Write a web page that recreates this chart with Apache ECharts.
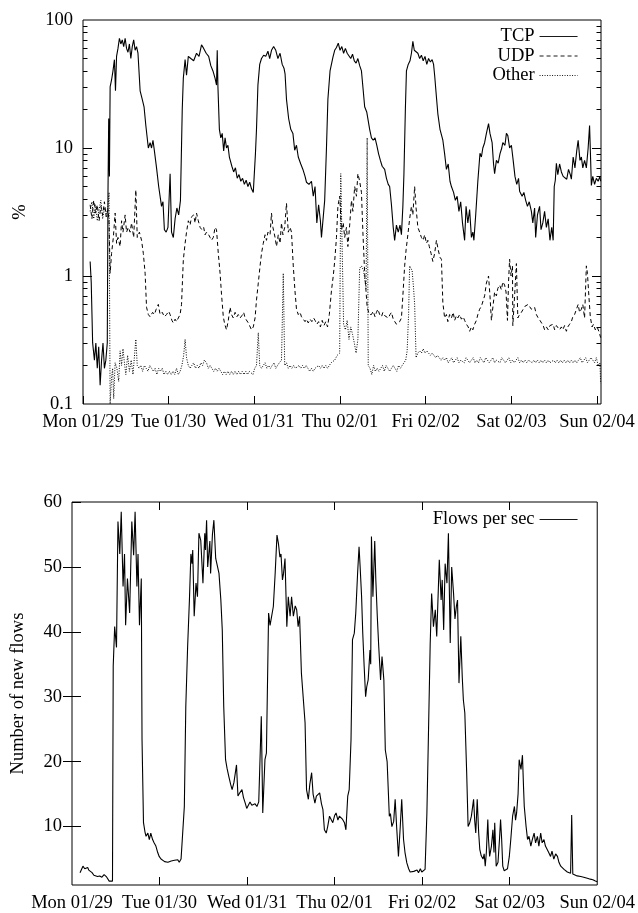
<!DOCTYPE html>
<html><head><meta charset="utf-8">
<script src="https://cdn.jsdelivr.net/npm/echarts@6/dist/echarts.min.js"></script>
<style>html,body{margin:0;padding:0;background:#fff}#c{width:638px;height:913px}</style>
</head><body><div id="c"></div>
<script>
// ---- axis ticks / labels ----
const dayTicks = [0, 24, 48, 72, 96, 120, 144];
const dayLabels = ['Mon 01/29', 'Tue 01/30', 'Wed 01/31', 'Thu 02/01', 'Fri 02/02', 'Sat 02/03', 'Sun 02/04'];
const pctLabelTicks = [0.1, 1, 10, 100];
const pctMajorTicks = [1, 10];
const pctMinorTicks = [0.2,0.3,0.4,0.5,0.6,0.7,0.8,0.9,2,3,4,5,6,7,8,9,20,30,40,50,60,70,80,90];
const flowLabelTicks = [10, 20, 30, 40, 50, 60];
const flowRightTicks = [10, 20, 30, 40, 50];

// ---- series data: [hours since Mon 00:00, value] ----
const tcp = [[2.0,1.3],[2.3,0.9],[2.7,0.3],[3.2,0.22],[3.6,0.3],[4.0,0.19],[4.4,0.28],[4.8,0.14],[5.2,0.22],[5.6,0.3],[6.0,0.19],[6.4,0.22],[6.8,0.3],[7.0,4.5],[7.2,17],[7.4,6],[7.6,30],[8.0,34],[8.4,40],[8.8,49],[9.1,28],[9.4,52],[9.8,60],[10.2,72],[10.6,65],[11.0,70],[11.4,62],[11.8,72],[12.2,60],[12.6,56],[13.0,65],[13.4,50],[13.8,62],[14.2,70],[14.6,58],[15.0,62],[15.4,55],[16.0,28],[16.6,24],[17.1,21],[17.6,15],[18.3,10],[18.8,11],[19.2,10],[19.6,11.5],[20.0,9.5],[20.6,7],[21.2,5],[22.0,3.5],[22.4,3.8],[22.8,2.3],[23.3,2.2],[23.8,2.4],[24.4,6.3],[24.8,2.2],[25.3,2.0],[25.8,2.8],[26.3,3.4],[26.8,3.0],[27.3,3.9],[27.8,20],[28.1,35],[28.6,49],[29.0,37],[29.5,52],[30.2,50],[31.0,48],[31.8,55],[32.5,52],[33.2,64],[33.8,60],[34.5,55],[35.2,52],[35.8,44],[36.4,40],[37.0,35],[37.4,31],[37.6,58],[37.8,30],[38.2,14],[38.6,12],[39.0,13],[39.4,9.5],[39.8,12],[40.2,10],[40.6,10.5],[41.0,8.5],[41.7,7.2],[42.2,6.5],[42.7,7.0],[43.2,5.8],[43.7,6.2],[44.2,5.5],[44.7,5.8],[45.2,5.2],[45.7,5.6],[46.2,5.0],[46.7,5.4],[47.2,4.8],[47.7,4.5],[48.3,9],[48.6,14],[49.0,31],[49.5,45],[50.0,50],[50.6,53],[51.2,52],[51.8,57],[52.3,50],[52.8,58],[53.4,62],[54.0,58],[54.6,50],[55.2,55],[55.8,45],[56.3,42],[56.6,38],[57.0,24],[57.6,17],[58.2,14],[58.8,13],[59.3,9.6],[59.8,10.5],[60.3,8.5],[61.0,7.5],[61.6,6.8],[62.2,6.0],[62.6,5.4],[63.3,5.2],[64.0,5.5],[64.5,4.2],[65.0,5.0],[65.5,2.6],[66.0,3.6],[66.5,2.7],[66.8,2.0],[67.7,3.9],[68.2,10],[68.6,24],[69.2,40],[70.0,51],[70.5,58],[71.0,61],[71.5,66],[72.0,58],[72.5,62],[73.0,55],[73.5,60],[74.0,55],[74.5,57],[75.0,50],[75.5,54],[76.0,48],[76.5,46],[77.0,50],[77.5,44],[78.0,40],[78.5,28],[78.9,21],[79.5,19],[80.3,14],[80.8,12],[81.3,11.5],[81.8,12],[82.3,10.5],[82.8,9],[83.3,8],[83.8,7.2],[84.5,6.8],[85.0,5.8],[85.5,5.2],[85.9,5],[86.4,3.6],[86.9,2.4],[87.3,1.9],[87.8,2.5],[88.3,2.2],[88.8,2.5],[89.2,2.1],[89.6,3.5],[89.9,6.3],[90.3,20],[90.6,40],[91.1,45],[91.6,48],[92.0,55],[92.4,68],[92.8,58],[93.3,57],[93.8,55],[94.3,50],[94.8,53],[95.3,48],[95.8,52],[96.3,45],[96.8,50],[97.3,47],[97.8,49],[98.2,45],[98.5,37],[99.0,25],[99.4,18.5],[100.0,14],[100.8,11.5],[101.3,9],[101.8,6.8],[102.3,7.5],[102.8,5.5],[103.2,5],[103.8,4.5],[104.3,3.9],[104.8,4.2],[105.3,3.2],[105.8,3.8],[106.3,2.6],[106.9,1.9],[107.3,3.5],[107.8,2.6],[108.3,3.3],[108.8,2.0],[109.2,2.2],[109.5,1.9],[110.0,3.0],[110.6,5.5],[111.2,9.1],[111.6,8.5],[112.0,10],[112.5,11],[113.0,13],[113.6,15.5],[114.0,13],[114.6,11],[115.0,7.5],[115.3,6.3],[115.8,8],[116.3,7.6],[116.8,9],[117.3,10],[117.6,11],[118.2,10.5],[118.6,13],[119.0,12.5],[119.5,10],[120.0,10.5],[120.5,8],[121.0,6],[121.5,5.2],[122.0,5.8],[122.3,4.6],[123.0,4.2],[123.5,4.5],[124.0,3.9],[124.5,3.5],[125.0,3.8],[125.6,3.2],[126.0,2.6],[126.5,3.4],[126.8,2.0],[127.3,3.0],[127.9,3.5],[128.3,2.3],[128.8,2.6],[129.3,3.2],[129.8,2.4],[130.3,2.8],[130.8,1.9],[131.3,2.4],[131.7,1.9],[132.0,5.0],[132.3,5.6],[132.6,7.6],[133.0,6.2],[133.5,7.5],[134.0,6.5],[134.5,6.0],[135.0,6.2],[135.5,5.7],[136.0,6.8],[136.5,6.2],[136.8,5.7],[137.3,8.5],[137.8,7.0],[138.3,9.5],[138.7,11.5],[139.2,8.0],[139.6,8.5],[140.0,7.0],[140.5,8.0],[141.0,7.0],[141.5,10],[141.9,15],[142.2,8],[142.4,5.1],[142.8,6.0],[143.3,5.2],[143.8,5.8],[144.3,5.5],[144.8,6.0],[145.0,5.5]];

const udp = [[2.0,3.6],[2.5,2.8],[3.0,3.9],[3.5,3.1],[4.0,3.6],[4.5,2.7],[5.0,3.5],[5.5,3.0],[6.0,3.8],[6.5,2.9],[7.0,3.3],[7.3,2.6],[7.6,1.05],[8.0,1.5],[8.5,2.0],[9.0,3.1],[9.4,1.8],[9.8,2.0],[10.4,1.7],[10.8,2.7],[11.2,2.2],[11.8,3.0],[12.2,2.2],[12.7,2.4],[13.2,2.2],[13.6,2.6],[14.2,2.0],[14.8,4.7],[15.2,2.0],[15.8,2.2],[16.4,1.9],[16.9,1.5],[17.4,1.05],[17.8,0.57],[18.3,0.5],[18.8,0.48],[19.5,0.52],[20.0,0.5],[20.5,0.55],[21.1,0.6],[21.6,0.5],[22.2,0.52],[22.8,0.48],[23.4,0.5],[24.0,0.53],[24.4,0.5],[24.9,0.45],[25.3,0.43],[25.8,0.46],[26.2,0.44],[26.7,0.47],[27.2,0.5],[27.6,0.6],[28.1,1.33],[28.6,1.8],[29.0,2.2],[29.5,2.7],[30.0,2.5],[30.4,2.9],[31.0,3.0],[31.4,2.6],[31.8,3.1],[32.3,2.7],[32.8,2.4],[33.3,2.3],[33.8,2.4],[34.2,2.1],[34.6,2.2],[35.2,2.1],[35.6,2.0],[36.0,1.9],[36.5,2.0],[37.0,2.4],[37.4,2.3],[37.9,1.5],[38.4,1.05],[38.8,0.72],[39.3,0.48],[39.7,0.42],[40.2,0.38],[40.7,0.45],[41.2,0.57],[41.6,0.5],[42.1,0.47],[42.6,0.52],[43.1,0.48],[43.5,0.5],[44.0,0.47],[44.5,0.49],[45.0,0.52],[45.4,0.47],[45.8,0.46],[46.3,0.43],[46.8,0.42],[47.2,0.38],[47.7,0.4],[48.2,0.47],[48.6,0.65],[49.1,0.88],[49.6,1.2],[50.0,1.5],[50.5,1.8],[51.0,2.1],[51.4,1.9],[51.8,2.2],[52.4,2.1],[52.8,3.1],[53.2,2.4],[53.8,2.0],[54.2,1.7],[54.7,2.1],[55.2,1.8],[55.6,2.6],[56.0,2.1],[56.5,2.4],[57.0,3.7],[57.5,2.2],[58.0,2.4],[58.4,2.2],[58.9,1.2],[59.4,0.75],[59.8,0.55],[60.3,0.5],[60.8,0.52],[61.2,0.48],[61.7,0.47],[62.2,0.44],[62.6,0.46],[63.1,0.43],[63.6,0.46],[64.1,0.44],[64.6,0.47],[65.0,0.45],[65.5,0.42],[66.0,0.44],[66.5,0.4],[67.0,0.45],[67.5,0.41],[68.0,0.44],[68.5,0.4],[69.0,0.5],[69.6,0.77],[70.1,1.0],[70.5,1.3],[71.0,2.0],[71.4,3.5],[71.9,4.2],[72.4,2.3],[72.9,2.6],[73.3,2.0],[73.8,2.4],[74.2,1.7],[74.7,2.5],[75.2,3.9],[75.6,3.2],[76.1,5.0],[76.6,4.2],[77.0,6.3],[77.5,5.5],[78.0,4.5],[78.4,2.2],[78.9,1.05],[79.3,0.75],[79.6,0.57],[80.2,0.5],[80.8,0.5],[81.3,0.53],[81.8,0.48],[82.2,0.52],[82.6,0.55],[83.1,0.5],[83.6,0.48],[84.0,0.52],[84.5,0.49],[85.0,0.5],[85.5,0.47],[86.0,0.5],[86.4,0.52],[86.9,0.46],[87.3,0.45],[87.8,0.42],[88.2,0.41],[88.7,0.44],[89.2,0.47],[89.6,0.7],[90.1,1.2],[90.5,1.6],[91.0,2.1],[91.5,2.8],[92.0,3.5],[92.4,3.0],[92.9,5.0],[93.3,3.4],[93.8,2.4],[94.3,2.2],[94.8,2.0],[95.3,1.9],[95.7,2.1],[96.2,1.8],[96.6,1.9],[97.0,1.7],[97.5,1.5],[98.0,1.3],[98.5,1.5],[99.0,1.9],[99.5,1.6],[100.0,1.4],[100.4,1.35],[100.8,0.62],[101.3,0.47],[101.8,0.5],[102.2,0.44],[102.7,0.5],[103.2,0.47],[103.7,0.52],[104.1,0.45],[104.6,0.49],[105.0,0.47],[105.5,0.5],[106.0,0.46],[106.5,0.48],[106.9,0.45],[107.4,0.42],[107.9,0.4],[108.3,0.37],[108.8,0.4],[109.2,0.38],[109.7,0.42],[110.2,0.45],[110.6,0.5],[111.1,0.55],[111.6,0.58],[112.0,0.6],[112.5,0.7],[113.0,0.88],[113.6,1.0],[114.0,0.7],[114.4,0.45],[114.9,0.6],[115.3,0.75],[115.8,0.7],[116.2,0.8],[116.7,0.85],[117.2,0.78],[117.6,0.9],[118.1,0.85],[118.5,0.75],[118.9,0.45],[119.2,0.9],[119.5,1.35],[119.9,1.0],[120.3,1.2],[120.4,0.41],[120.9,0.7],[121.4,1.25],[121.8,0.47],[122.3,0.5],[122.8,0.52],[123.3,0.55],[123.8,0.58],[124.2,0.6],[124.7,0.6],[125.2,0.58],[125.6,0.55],[126.1,0.56],[126.5,0.57],[127.0,0.5],[127.5,0.47],[128.0,0.45],[128.4,0.44],[128.9,0.41],[129.3,0.38],[129.8,0.4],[130.3,0.38],[130.8,0.41],[131.2,0.4],[131.7,0.42],[132.1,0.38],[132.6,0.41],[133.0,0.42],[133.5,0.38],[134.0,0.4],[134.4,0.38],[134.9,0.41],[135.4,0.37],[135.8,0.4],[136.3,0.42],[136.8,0.44],[137.2,0.48],[137.7,0.5],[138.2,0.5],[138.7,0.6],[139.1,0.52],[139.6,0.55],[140.0,0.6],[140.5,0.47],[141.0,1.2],[141.3,1.05],[141.7,0.7],[142.1,0.48],[142.6,0.4],[143.0,0.42],[143.5,0.38],[144.0,0.4],[144.5,0.37],[145.0,0.33]];

const other = [[2.0,3.2],[2.5,3.8],[3.0,2.8],[3.5,3.6],[4.0,2.7],[4.5,3.3],[5.0,3.9],[5.5,2.8],[6.0,3.4],[6.5,3.0],[7.0,3.5],[7.3,4.5],[7.6,0.1],[8.0,0.16],[8.3,0.19],[8.6,0.11],[9.0,0.21],[9.5,0.19],[10.0,0.15],[10.4,0.26],[10.8,0.2],[11.2,0.27],[11.6,0.21],[12.0,0.17],[12.5,0.24],[13.0,0.18],[13.5,0.22],[14.0,0.17],[14.8,0.32],[15.2,0.2],[15.7,0.19],[16.2,0.2],[16.7,0.18],[17.2,0.2],[17.7,0.19],[18.2,0.18],[18.7,0.2],[19.2,0.19],[19.7,0.18],[20.2,0.19],[20.7,0.17],[21.2,0.19],[21.7,0.18],[22.2,0.19],[22.7,0.17],[23.2,0.18],[23.7,0.17],[24.2,0.18],[24.7,0.17],[25.2,0.18],[25.7,0.17],[26.2,0.19],[26.7,0.17],[27.2,0.18],[27.7,0.2],[28.2,0.24],[28.6,0.32],[29.0,0.23],[29.5,0.2],[30.0,0.19],[30.5,0.2],[31.0,0.21],[31.5,0.19],[32.0,0.2],[32.5,0.19],[33.0,0.21],[33.5,0.2],[34.0,0.22],[34.6,0.21],[35.1,0.19],[35.6,0.2],[36.1,0.19],[36.6,0.18],[37.1,0.19],[37.6,0.18],[38.1,0.19],[38.6,0.18],[39.1,0.17],[39.6,0.18],[40.1,0.17],[40.6,0.18],[41.1,0.17],[41.6,0.18],[42.1,0.17],[42.6,0.18],[43.1,0.17],[43.6,0.18],[44.1,0.17],[44.6,0.18],[45.1,0.17],[45.6,0.18],[46.1,0.17],[46.6,0.18],[47.1,0.18],[47.6,0.17],[48.1,0.19],[48.6,0.2],[49.1,0.36],[49.5,0.2],[50.0,0.19],[50.5,0.2],[51.0,0.21],[51.5,0.19],[52.0,0.2],[52.5,0.19],[53.0,0.2],[53.5,0.21],[54.0,0.19],[54.5,0.2],[55.0,0.21],[55.6,0.22],[56.1,1.05],[56.5,0.2],[57.0,0.21],[57.5,0.19],[58.0,0.2],[58.5,0.19],[59.0,0.2],[59.5,0.19],[60.0,0.19],[60.5,0.2],[61.0,0.19],[61.5,0.2],[62.0,0.19],[62.5,0.2],[63.0,0.19],[63.5,0.18],[64.0,0.19],[64.5,0.18],[65.0,0.19],[65.5,0.19],[66.0,0.2],[66.5,0.19],[67.0,0.2],[67.5,0.19],[68.0,0.2],[68.5,0.19],[69.0,0.2],[69.5,0.21],[70.0,0.21],[70.5,0.22],[71.2,0.24],[71.9,0.25],[72.2,6.3],[72.5,2.3],[73.0,0.42],[73.5,0.38],[74.0,0.45],[74.5,0.32],[75.0,0.4],[75.5,0.35],[76.0,0.3],[76.5,0.25],[77.0,0.32],[77.5,1.15],[78.0,1.2],[78.6,1.1],[79.3,0.8],[79.6,12],[79.9,0.2],[80.4,0.19],[80.9,0.17],[81.4,0.2],[81.9,0.18],[82.4,0.19],[82.9,0.18],[83.4,0.19],[83.9,0.2],[84.4,0.18],[84.9,0.2],[85.4,0.19],[85.9,0.18],[86.4,0.19],[86.9,0.2],[87.4,0.19],[87.9,0.18],[88.4,0.2],[88.9,0.19],[89.4,0.2],[89.9,0.21],[90.4,0.22],[90.8,0.26],[91.2,0.5],[91.5,1.2],[92.2,1.1],[92.6,0.8],[92.9,0.6],[93.3,0.23],[93.8,0.25],[94.3,0.26],[94.8,0.25],[95.3,0.27],[95.8,0.25],[96.3,0.26],[96.8,0.25],[97.3,0.24],[97.8,0.25],[98.3,0.24],[98.8,0.23],[99.3,0.24],[99.8,0.23],[100.3,0.22],[100.8,0.23],[101.3,0.22],[101.8,0.23],[102.3,0.21],[102.8,0.22],[103.3,0.23],[103.8,0.21],[104.3,0.22],[104.8,0.23],[105.3,0.21],[105.8,0.22],[106.3,0.22],[106.8,0.21],[107.3,0.23],[107.8,0.22],[108.3,0.21],[108.8,0.22],[109.3,0.23],[109.8,0.21],[110.3,0.22],[110.8,0.21],[111.3,0.23],[111.8,0.22],[112.3,0.21],[112.8,0.23],[113.3,0.22],[113.8,0.21],[114.3,0.22],[114.8,0.23],[115.3,0.21],[115.8,0.22],[116.3,0.22],[116.8,0.21],[117.3,0.23],[117.8,0.22],[118.3,0.21],[118.8,0.22],[119.3,0.23],[119.8,0.21],[120.3,0.22],[120.8,0.21],[121.3,0.22],[121.8,0.23],[122.3,0.21],[122.8,0.22],[123.3,0.21],[123.8,0.22],[124.3,0.21],[124.8,0.22],[125.3,0.22],[125.8,0.21],[126.3,0.22],[126.8,0.21],[127.3,0.22],[127.8,0.21],[128.3,0.22],[128.8,0.21],[129.3,0.22],[129.8,0.21],[130.3,0.22],[130.8,0.21],[131.3,0.21],[131.8,0.22],[132.3,0.21],[132.8,0.22],[133.3,0.21],[133.8,0.22],[134.3,0.21],[134.8,0.22],[135.3,0.21],[135.8,0.22],[136.3,0.21],[136.8,0.22],[137.3,0.21],[137.8,0.22],[138.3,0.21],[138.8,0.22],[139.3,0.23],[139.8,0.21],[140.3,0.22],[140.8,0.23],[141.3,0.21],[141.8,0.22],[142.3,0.23],[142.8,0.22],[143.3,0.21],[143.8,0.23],[144.3,0.2],[144.8,0.21],[145.0,0.145]];

const flows = [[2.2,2.9],[3.0,3.9],[3.5,3.5],[3.9,3.4],[4.3,3.7],[4.6,3.3],[5.0,3.0],[5.5,2.9],[6.0,2.5],[6.5,2.7],[7.0,2.3],[7.6,2.4],[8.2,2.2],[8.8,2.6],[9.4,2.3],[9.8,2.5],[10.2,1.6],[10.7,1.7],[11.1,1.6],[11.3,34.7],[11.7,40.8],[12.2,37.6],[12.6,57],[13.1,52],[13.5,58.5],[14.0,47],[14.4,52],[14.7,41],[15.2,48.2],[15.8,42.9],[16.4,57],[16.9,51.8],[17.3,58.5],[17.8,47],[18.1,52],[18.5,41],[19.0,48.2],[19.2,23.4],[19.6,10.6],[20.0,9.2],[20.3,8.5],[20.8,9.0],[21.2,8.0],[21.6,9.0],[22.1,8.0],[22.5,7.5],[23.0,7.0],[23.5,6.0],[23.9,5.4],[24.4,5.0],[24.9,5.0],[25.4,4.6],[25.8,4.8],[26.3,4.5],[26.7,4.3],[27.2,4.7],[27.6,4.4],[28.1,4.8],[28.5,4.6],[29.0,4.9],[29.4,4.5],[29.9,5.0],[30.3,4.7],[30.8,13.1],[31.2,28.5],[31.7,37.7],[32.2,45],[32.6,52],[32.9,50.5],[33.1,52.6],[33.5,42.4],[34.0,47.5],[34.4,45.4],[34.8,55.2],[35.3,54.1],[35.9,47.5],[36.4,55.2],[36.6,52.6],[36.9,57.2],[37.2,50],[37.4,50],[37.8,54],[38.0,49],[38.5,55],[38.9,57.2],[39.4,51.3],[39.8,51.3],[40.3,49],[40.8,45],[41.2,40.3],[41.6,28.5],[42.1,20.3],[42.5,19],[43.0,17.7],[43.5,16.5],[43.9,15.7],[44.4,16.8],[45.1,19.5],[45.5,14.7],[46.0,15.2],[46.6,15.7],[47.0,14.5],[47.5,13.6],[47.9,12.8],[48.4,13.1],[48.8,13.8],[49.3,13.3],[49.8,13.0],[50.2,13.5],[50.7,13.1],[51.2,13.8],[51.6,13.6],[51.9,27.0],[52.3,12.1],[52.9,20.3],[53.3,21.3],[53.9,42.9],[54.3,41],[54.8,41.3],[55.2,43.9],[55.7,49],[56.2,54.9],[56.6,53.6],[57.0,51.5],[57.3,52],[57.7,48],[58.0,49],[58.4,51.3],[58.9,40.8],[59.3,45.4],[59.8,42.4],[60.2,45.4],[60.7,42.4],[61.2,44],[61.6,43.4],[62.0,40.8],[62.4,42.4],[62.9,33.6],[63.4,33.6],[63.9,26],[64.3,15.7],[64.8,14.2],[65.2,16.5],[65.7,18.3],[66.1,15],[66.6,13.6],[67.0,14.7],[67.5,14.7],[67.9,15.2],[68.4,13.5],[68.8,12.6],[69.2,9.5],[69.7,9.0],[70.1,10],[70.6,11.6],[71.0,11.3],[71.5,10.6],[72.0,11.7],[72.4,12.1],[72.9,11.0],[73.3,11.6],[73.8,11.4],[74.2,11.1],[74.7,10.6],[75.1,9.5],[75.6,14.7],[76.0,15.7],[76.5,23.4],[76.9,38.8],[77.4,39.8],[77.8,42.9],[78.3,49],[78.7,53.1],[79.0,50],[79.4,45.4],[79.7,40],[80.1,34.7],[80.5,30],[80.8,31.5],[81.2,32.6],[81.7,37.2],[81.9,35],[82.1,54.7],[82.5,45.4],[83.0,54],[83.3,48],[83.7,42.4],[84.1,37.7],[84.6,32.6],[85.0,36.2],[85.5,32.6],[85.9,21.8],[86.4,20.0],[87.0,11.6],[87.3,12],[87.7,10],[88.2,10.8],[88.6,14.2],[89.0,10],[89.5,5.4],[90.0,10],[90.4,14.2],[90.9,8.0],[91.3,6],[91.8,4.4],[92.3,3.5],[92.7,3.0],[93.2,2.9],[93.7,3.1],[94.1,2.8],[94.6,3.3],[95.0,2.9],[95.5,3.5],[95.9,3.0],[96.4,3.2],[96.8,3.4],[97.3,12],[97.7,23.4],[98.2,38],[98.6,45.9],[99.1,40.8],[99.6,43.4],[100.0,39.3],[100.4,46],[100.7,51.1],[101.2,44.9],[101.5,48],[101.9,40.3],[102.3,50.5],[102.8,47.5],[103.2,55.2],[103.7,38.3],[104.1,50],[104.6,46],[105.0,42],[105.4,44],[105.7,44.9],[106.1,32.1],[106.6,39.3],[107.0,33],[107.3,29.5],[107.7,27.5],[108.2,18.5],[108.6,10],[109.0,10.5],[109.5,11.6],[110.1,14.2],[110.4,11],[110.7,9.0],[111.1,14.2],[111.5,9],[111.8,6.5],[112.2,5.5],[112.7,5.0],[113.0,5.8],[113.3,3.9],[113.6,6],[114.0,11.1],[114.2,8],[114.5,5.4],[115.0,7],[115.4,9.5],[115.7,6],[115.9,10.6],[116.3,3.9],[116.8,4.5],[117.2,8],[117.5,11.1],[117.8,8],[118.1,3.9],[118.5,3.2],[119.0,2.9],[119.4,3.5],[119.9,5.4],[120.3,8],[120.8,11.6],[121.3,13.1],[121.6,11],[121.9,12.1],[122.3,15],[122.6,20.3],[123.1,18.8],[123.5,21.0],[123.8,16],[124.0,13.1],[124.5,10],[124.9,8.0],[125.3,8.5],[125.8,7.0],[126.2,8.0],[126.7,9.0],[127.1,7.5],[127.6,8.5],[128.0,7.0],[128.5,9.0],[128.9,7.5],[129.4,8.0],[129.8,7.0],[130.3,7.0],[130.7,6.0],[131.2,5.4],[131.6,6.2],[132.1,5.0],[132.6,5.8],[133.1,5.4],[133.5,4.5],[134.0,3.9],[134.4,4.2],[134.9,3.4],[135.4,3.2],[135.8,3.0],[136.3,2.7],[136.7,2.8],[137.0,11.8],[137.3,2.7],[137.8,2.6],[138.5,2.4],[139.0,2.5],[139.5,2.3],[140.3,2.2],[140.8,2.1],[141.5,2.0],[142.1,1.9],[142.8,1.8],[143.5,1.6],[144.0,1.5]];

// ---- styling ----
const FONT = 'Liberation Serif';
const FS = 18.5;
const txt = { fontFamily: FONT, fontSize: FS, color: '#000' };
const blk = '#000';

function dayFmt(v) {
  const i = dayTicks.indexOf(Math.round(v));
  return i >= 0 ? dayLabels[i] : '';
}
function pctFmt(v) {
  if (v < 0.5) return '0.1';
  return String(Math.round(v));
}

const logBase = { type: 'log', logBase: 10, min: 0.1, max: 100, gridIndex: 0, splitLine: { show: false }, axisLine: { show: false } };

function legendFor(name, top) {
  return { data: [name], right: 60, top: top, orient: 'vertical', align: 'right', itemWidth: 38, itemHeight: 14,
    selectedMode: false, textStyle: txt, padding: 0,
    lineStyle: { width: 0.9 },
    itemStyle: { opacity: 0, color: 'rgba(0,0,0,0)', borderWidth: 0 } };
}

const chart = echarts.init(document.getElementById('c'), null, { renderer: 'canvas', width: 638, height: 913 });
chart.setOption({
  animation: false,
  backgroundColor: '#fff',
  grid: [
    { left: 83, top: 20, width: 518, height: 384, show: true, borderColor: blk, borderWidth: 1, backgroundColor: 'transparent' },
    { left: 72, top: 502, width: 529, height: 383, show: true, borderColor: blk, borderWidth: 1, backgroundColor: 'transparent' }
  ],
  legend: [legendFor('TCP', 27), legendFor('UDP', 46.5), legendFor('Other', 66), legendFor('Flows per sec', 510)],
  xAxis: [
    { type: 'value', gridIndex: 0, min: 0, max: 145.1, position: 'bottom', splitLine: { show: false }, axisLine: { show: false },
      axisTick: { inside: true, length: 8, customValues: dayTicks, lineStyle: { color: blk } },
      axisLabel: Object.assign({ customValues: dayTicks, formatter: dayFmt, margin: 9 }, txt) },
    { type: 'value', gridIndex: 1, min: 0, max: 144, position: 'bottom', splitLine: { show: false }, axisLine: { show: false },
      axisTick: { inside: true, length: 8, customValues: dayTicks.slice(1, 6), lineStyle: { color: blk } },
      axisLabel: Object.assign({ customValues: dayTicks, formatter: dayFmt, margin: 9 }, txt) },
    { type: 'value', gridIndex: 1, min: 0, max: 144, position: 'top', splitLine: { show: false }, axisLine: { show: false },
      axisTick: { inside: true, length: 8, customValues: dayTicks.slice(1, 6), lineStyle: { color: blk } },
      axisLabel: { show: false } }
  ],
  yAxis: [
    Object.assign({}, logBase, { position: 'left',
      name: '%', nameLocation: 'middle', nameGap: 53, nameRotate: 90, nameTextStyle: txt,
      axisTick: { inside: true, length: 9, customValues: pctMajorTicks, lineStyle: { color: blk } },
      axisLabel: Object.assign({ customValues: pctLabelTicks, formatter: pctFmt, margin: 10 }, txt) }),
    Object.assign({}, logBase, { position: 'left',
      axisTick: { inside: true, length: 4.5, customValues: pctMinorTicks, lineStyle: { color: blk } },
      axisLabel: { show: false } }),
    Object.assign({}, logBase, { position: 'right',
      axisTick: { inside: true, length: 9, customValues: pctMajorTicks, lineStyle: { color: blk } },
      axisLabel: { show: false } }),
    Object.assign({}, logBase, { position: 'right',
      axisTick: { inside: true, length: 4.5, customValues: pctMinorTicks, lineStyle: { color: blk } },
      axisLabel: { show: false } }),
    { type: 'value', gridIndex: 1, min: 1, max: 60, position: 'left', splitLine: { show: false }, axisLine: { show: false },
      name: 'Number of new flows', nameLocation: 'middle', nameGap: 44, nameRotate: 90, nameTextStyle: txt,
      axisTick: { inside: true, length: 9, customValues: flowLabelTicks, lineStyle: { color: blk } },
      axisLabel: Object.assign({ customValues: flowLabelTicks, margin: 10 }, txt) },
    { type: 'value', gridIndex: 1, min: 1, max: 60, position: 'right', splitLine: { show: false }, axisLine: { show: false },
      axisTick: { inside: true, length: 9, customValues: flowRightTicks, lineStyle: { color: blk } },
      axisLabel: { show: false } }
  ],
  series: [
    { name: 'TCP', type: 'line', xAxisIndex: 0, yAxisIndex: 0, data: tcp, symbol: 'none',
      lineStyle: { color: blk, width: 1.1, type: 'solid' }, itemStyle: { color: blk } },
    { name: 'UDP', type: 'line', xAxisIndex: 0, yAxisIndex: 0, data: udp, symbol: 'none',
      lineStyle: { color: blk, width: 1, type: [4, 3] }, itemStyle: { color: blk } },
    { name: 'Other', type: 'line', xAxisIndex: 0, yAxisIndex: 0, data: other, symbol: 'none',
      lineStyle: { color: blk, width: 1, type: [1, 1.5] }, itemStyle: { color: blk } },
    { name: 'Flows per sec', type: 'line', xAxisIndex: 1, yAxisIndex: 4, data: flows, symbol: 'none',
      lineStyle: { color: blk, width: 1.1, type: 'solid' }, itemStyle: { color: blk } }
  ]
});
</script>
</body></html>
